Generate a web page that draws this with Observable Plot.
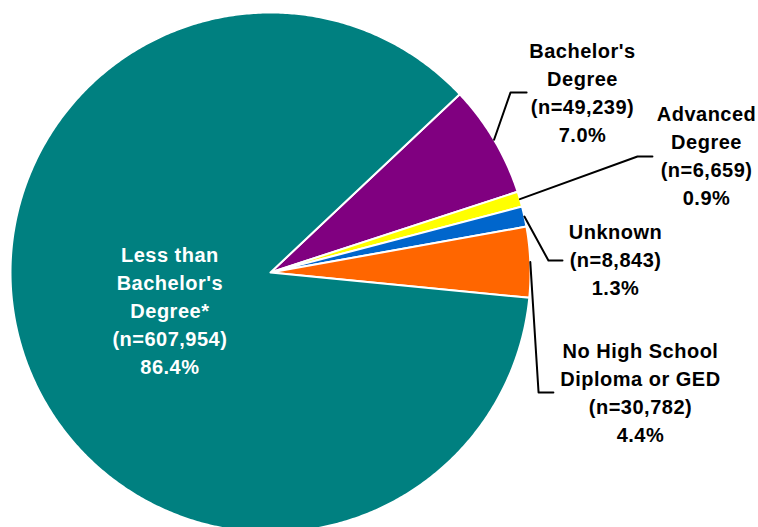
<!DOCTYPE html>
<html>
<head>
<meta charset="utf-8">
<script src="https://cdn.jsdelivr.net/npm/d3@7"></script>
<script src="https://cdn.jsdelivr.net/npm/@observablehq/plot@0.6"></script>
<style>
  html, body { margin: 0; padding: 0; background: #fff; }
  svg { display: block; }
</style>
</head>
<body>
<div id="chart"></div>
<script>
// ---- data ----
const categories = ["Bachelor's\nDegree", "Advanced\nDegree", "Unknown", "No High School\nDiploma or GED", "Less than\nBachelor's\nDegree*"];
const counts = [49239, 6659, 8843, 30782, 607954];
const percents = ["7.0%", "0.9%", "1.3%", "4.4%", "86.4%"];
const colors = ["#800080", "#FFFF00", "#0066CC", "#FF6600", "#008080"];

// ---- layout (unit-circle coordinates, radius = 1) ----
const labelPos = [[1.2, 0.698], [1.677, 0.457], [1.327, 0.055], [1.423, -0.455], [-0.387, -0.142]];
const elbows = [[[0.923, 0.692], [0.985, 0.692]], [[1.4115, 0.446], [1.469, 0.446]], [[1.069, 0.046], [1.123, 0.046]], [[1.031, -0.4615], [1.088, -0.4615]], null];
const textColor = ["#000", "#000", "#000", "#000", "#fff"];

const W = 758, H = 527, CX = 270, CY = 272, R = 260;
const start = 46.7 * Math.PI / 180;

const rows = categories.map((c, i) => ({key: c, n: counts[i], pct: percents[i], color: colors[i]}));
const arcs = d3.pie().sort(null).value(d => d.n).startAngle(start).endAngle(start + 2 * Math.PI)(rows);

const pt = (a, r) => ({x: r * Math.sin(a), y: r * Math.cos(a)});

const poly = [];
arcs.forEach((a, i) => {
  poly.push({key: i, color: a.data.color, ...pt(0, 0)});
  const steps = Math.max(2, Math.ceil((a.endAngle - a.startAngle) / (0.5 * Math.PI / 180)));
  for (let s = 0; s <= steps; s++) {
    const ang = a.startAngle + (a.endAngle - a.startAngle) * s / steps;
    poly.push({key: i, color: a.data.color, ...pt(ang, 1)});
  }
  poly.push({key: i, color: a.data.color, ...pt(0, 0)});
});

const leaders = [];
arcs.forEach((a, i) => {
  if (!elbows[i]) return;
  const mid = (a.startAngle + a.endAngle) / 2;
  leaders.push({key: i, ...pt(mid, 1.0)});
  elbows[i].forEach(([x, y]) => leaders.push({key: i, x, y}));
});

const labels = arcs.map((a, i) => ({
  x: labelPos[i][0], y: labelPos[i][1],
  text: `${a.data.key}\n(n=${d3.format(",")(a.data.n)})\n${a.data.pct}`,
  fill: textColor[i]
}));

const chart = Plot.plot({
  width: W, height: H,
  margin: 0,
  x: {domain: [-CX / R, (W - CX) / R], range: [0, W], axis: null},
  y: {domain: [CY / R, -(H - CY) / R], range: [0, H], axis: null},
  style: {background: "#fff"},
  marks: [
    Plot.line(poly, {x: "x", y: "y", z: "key", fill: "color", stroke: "white", strokeWidth: 2, strokeLinejoin: "round", curve: "linear"}),
    Plot.line(leaders, {x: "x", y: "y", z: "key", stroke: "black", strokeWidth: 2, curve: "linear"}),
    Plot.text(labels, {x: "x", y: "y", text: "text", fill: "fill", textAnchor: "middle", lineAnchor: "middle", lineHeight: 1.4,
      fontFamily: "'Liberation Sans', Arial, sans-serif", fontWeight: "bold", fontSize: 20})
  ]
});
chart.querySelectorAll("text").forEach(t => t.style.letterSpacing = "0.5px");
document.getElementById("chart").appendChild(chart);
</script>
</body>
</html>
